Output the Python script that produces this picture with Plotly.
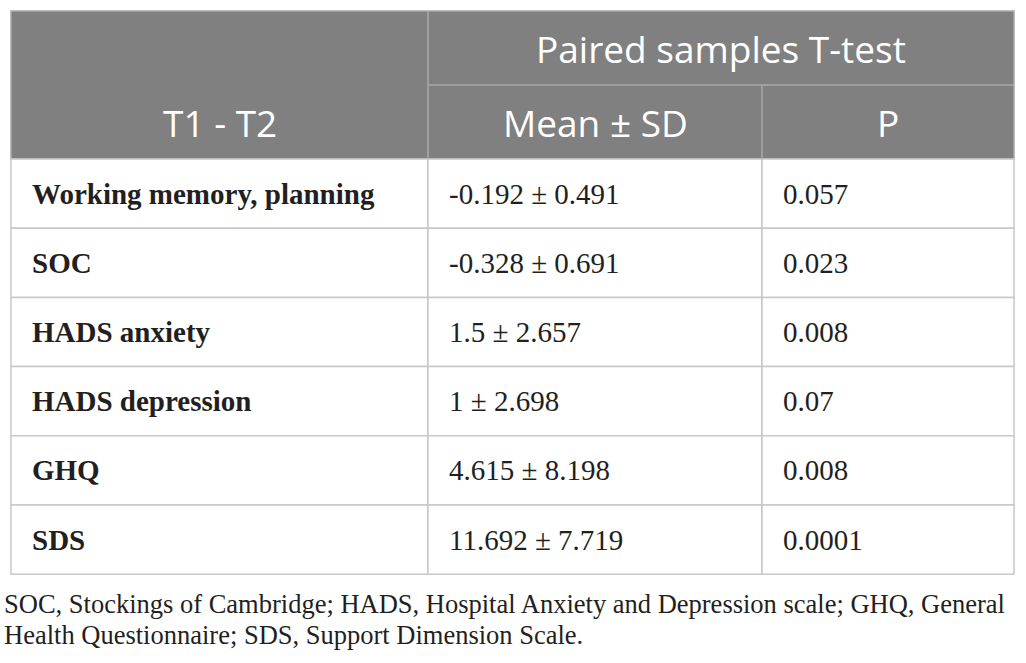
import plotly.graph_objects as go

# ---- data ----
stub_header = "T1 - T2"
group_header = "Paired samples T-test"
col_headers = ["Mean ± SD", "P"]
measures = ["Working memory, planning", "SOC", "HADS anxiety", "HADS depression", "GHQ", "SDS"]
means = [-0.192, -0.328, 1.5, 1, 4.615, 11.692]
sds = [0.491, 0.691, 2.657, 2.698, 8.198, 7.719]
p_values = [0.057, 0.023, 0.008, 0.07, 0.008, 0.0001]
footnote_lines = [
    "SOC, Stockings of Cambridge; HADS, Hospital Anxiety and Depression scale; GHQ, General",
    "Health Questionnaire; SDS, Support Dimension Scale.",
]

# ---- layout constants ----
W, H = 1026, 663
col_edges = [11, 428, 762, 1014]
head_edges = [11, 85, 159]
row_h = 69.2
pad = 19
head_fill = "#808080"
head_line = "#a8a8a8"
body_line = "#c8c8c8"
text_col = "#231f20"

n = len(measures)
row_edges = [head_edges[-1] + i * row_h for i in range(n + 1)]

shapes = []
annotations = []

# header background
shapes.append(dict(type="rect", xref="x", yref="y", x0=col_edges[0], x1=col_edges[-1],
                   y0=head_edges[0], y1=head_edges[-1], fillcolor=head_fill,
                   line=dict(color=head_line, width=1.5), layer="below"))
# header inner lines
shapes.append(dict(type="line", xref="x", yref="y", x0=col_edges[1], x1=col_edges[1],
                   y0=head_edges[0], y1=head_edges[-1], line=dict(color=head_line, width=1.5)))
shapes.append(dict(type="line", xref="x", yref="y", x0=col_edges[1], x1=col_edges[-1],
                   y0=head_edges[1], y1=head_edges[1], line=dict(color=head_line, width=1.5)))
shapes.append(dict(type="line", xref="x", yref="y", x0=col_edges[2], x1=col_edges[2],
                   y0=head_edges[1], y1=head_edges[2], line=dict(color=head_line, width=1.5)))

# body grid
for r in range(n):
    for c in range(3):
        shapes.append(dict(type="rect", xref="x", yref="y", x0=col_edges[c], x1=col_edges[c + 1],
                           y0=row_edges[r], y1=row_edges[r + 1], fillcolor="white",
                           line=dict(color=body_line, width=1.5), layer="below"))

hfont = dict(family="Open Sans", size=37, color="white")
annotations.append(dict(x=(col_edges[0] + col_edges[1]) / 2, y=(head_edges[1] + head_edges[2]) / 2,
                        text=stub_header, showarrow=False, font=hfont, xref="x", yref="y"))
annotations.append(dict(x=(col_edges[1] + col_edges[3]) / 2, y=(head_edges[0] + head_edges[1]) / 2,
                        text=group_header, showarrow=False, font=hfont, xref="x", yref="y"))
for c, label in enumerate(col_headers):
    annotations.append(dict(x=(col_edges[c + 1] + col_edges[c + 2]) / 2,
                            y=(head_edges[1] + head_edges[2]) / 2,
                            text=label, showarrow=False, font=hfont, xref="x", yref="y"))

bfont = dict(family="Liberation Serif", size=29, color=text_col)
for r in range(n):
    yc = (row_edges[r] + row_edges[r + 1]) / 2
    cells = [f"<b>{measures[r]}</b>", f"{means[r]:g} ± {sds[r]:g}", f"{p_values[r]:g}"]
    for c, txt in enumerate(cells):
        annotations.append(dict(x=col_edges[c] + pad, y=yc, text=txt, showarrow=False,
                                xanchor="left", yanchor="middle", font=bfont, xref="x", yref="y"))

ffont = dict(family="Liberation Serif", size=26.5, color=text_col)
for i, line in enumerate(footnote_lines):
    annotations.append(dict(x=2, y=604 + i * 31, text=line, showarrow=False, xanchor="left",
                            yanchor="middle", font=ffont, xref="x", yref="y"))

fig = go.Figure()
fig.add_trace(go.Scatter(x=[0, W], y=[0, H], mode="markers", marker=dict(opacity=0),
                         hoverinfo="skip", showlegend=False))
fig.update_layout(
    width=W, height=H, margin=dict(l=0, r=0, t=0, b=0),
    paper_bgcolor="white", plot_bgcolor="white",
    xaxis=dict(range=[0, W], visible=False, fixedrange=True),
    yaxis=dict(range=[H, 0], visible=False, fixedrange=True),
    shapes=shapes, annotations=annotations, showlegend=False,
)
fig.write_html("out.html", config={"displayModeBar": False},
               post_script="document.body.style.margin='0';")
